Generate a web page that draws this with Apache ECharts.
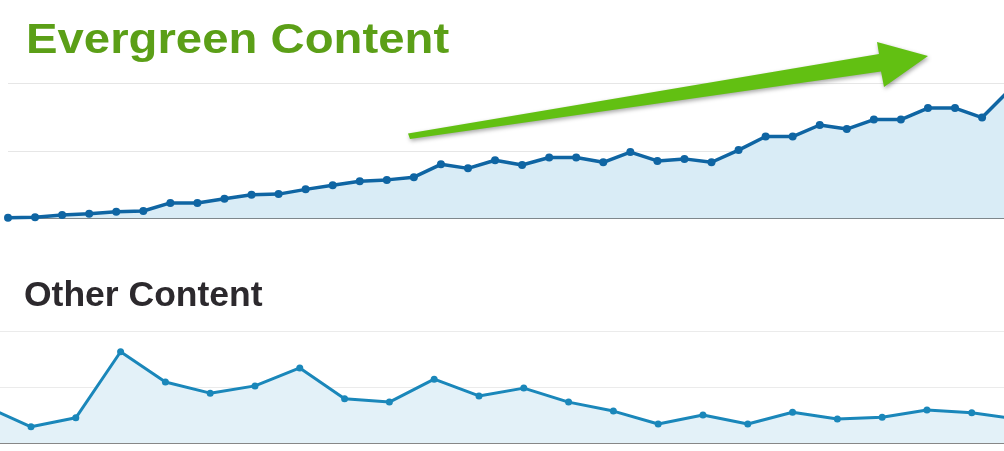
<!DOCTYPE html>
<html>
<head>
<meta charset="utf-8">
<script src="https://cdn.jsdelivr.net/npm/echarts@6/dist/echarts.min.js"></script>
<style>
html,body{margin:0;padding:0;background:#fff;}
#c{width:1004px;height:451px;}
</style>
</head>
<body>
<div id="c"></div>
<script>
// Evergreen content (weekly, 38 points, last one just past the right edge)
var evergreenValues = [1, 2, 5, 7, 10, 11, 23, 23, 29, 35, 36, 43, 49, 55, 57, 61, 80, 74, 86, 79,
  90, 90, 83, 98, 85, 88, 83, 101, 121, 121, 138, 132, 146, 146, 163, 163, 149, 189];

// Other content (24 points, first and last just outside the visible area)
var otherValues = [65, 29, 45, 163, 109, 89, 102, 134, 79, 73, 114, 84, 98, 73, 57, 34,
  50, 34, 55, 43, 46, 59, 54, 43];

// visible index window of each panel (the screenshot is cropped)
var evergreenRange = [0, 36.81];
var otherRange = [0.308, 22.72];

var yTicks = [0, 100, 200];

function pairs(arr) { return arr.map(function (v, i) { return [i, v]; }); }

var chart = echarts.init(document.getElementById('c'), null, {renderer: 'canvas'});

var hiddenX = {axisTick: {show: false}, axisLabel: {show: false}, splitLine: {show: false}};

var option = {
  animation: false,
  backgroundColor: '#ffffff',
  grid: [
    {left: 8, top: 83, right: 0, height: 135.5},
    {left: 0, top: 331, right: 0, height: 112}
  ],
  xAxis: [
    Object.assign({type: 'value', gridIndex: 0, min: evergreenRange[0], max: evergreenRange[1],
     axisLine: {show: true, lineStyle: {color: '#222', width: 1}}}, hiddenX),
    Object.assign({type: 'value', gridIndex: 1, min: otherRange[0], max: otherRange[1],
     axisLine: {show: true, lineStyle: {color: '#666', width: 1.5}}}, hiddenX)
  ],
  yAxis: [
    {type: 'value', gridIndex: 0, min: yTicks[0], max: yTicks[2], interval: 100,
     axisLine: {show: false}, axisTick: {show: false}, axisLabel: {show: false},
     splitLine: {show: true, lineStyle: {color: '#e6e6e6', width: 1}}},
    {type: 'value', gridIndex: 1, min: yTicks[0], max: yTicks[2], interval: 100,
     axisLine: {show: false}, axisTick: {show: false}, axisLabel: {show: false},
     splitLine: {show: true, lineStyle: {color: '#ebebeb', width: 1}}}
  ],
  series: [
    {type: 'line', xAxisIndex: 0, yAxisIndex: 0, data: pairs(evergreenValues),
     symbol: 'circle', symbolSize: 8, showSymbol: true,
     lineStyle: {color: '#0f65a3', width: 3.5},
     itemStyle: {color: '#0f65a3'},
     areaStyle: {color: '#d9ecf6', opacity: 1}, z: 3},
    {type: 'line', xAxisIndex: 1, yAxisIndex: 1, data: pairs(otherValues),
     symbol: 'circle', symbolSize: 7, showSymbol: true,
     lineStyle: {color: '#1a87ba', width: 3},
     itemStyle: {color: '#1a87ba'},
     areaStyle: {color: '#e3f1f8', opacity: 1}, z: 3}
  ],
  graphic: [
    {type: 'text', x: 26, y: 41.5, scaleX: 1.1, z: 10,
     style: {text: 'Evergreen Content', fill: '#5b9f17',
       font: 'bold 43px "Liberation Sans", Arial, sans-serif',
       align: 'left', verticalAlign: 'middle'}},
    {type: 'text', x: 24, y: 296.5, z: 10,
     style: {text: 'Other Content', fill: '#2c292d',
       font: 'bold 35.5px "Liberation Sans", Arial, sans-serif',
       align: 'left', verticalAlign: 'middle'}},
    {type: 'polygon', z: 20,
     shape: {points: [[408, 133.5], [879, 54], [877, 42], [928, 56], [884, 87], [881, 71.5], [410, 139]]},
     style: {fill: '#62c012', shadowBlur: 4, shadowColor: 'rgba(0,0,0,0.35)', shadowOffsetX: 1, shadowOffsetY: 2}}
  ]
};
chart.setOption(option);
</script>
</body>
</html>
